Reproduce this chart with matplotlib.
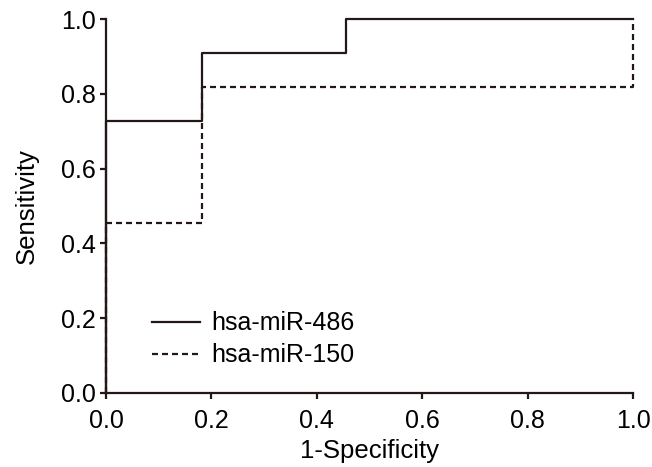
import matplotlib.pyplot as plt

plt.rcParams['font.family'] = ['Liberation Sans', 'DejaVu Sans']

# ROC points (1-specificity, sensitivity)
fpr_486 = [0.0, 0.0, 0.1818, 0.1818, 0.4545, 0.4545, 1.0]
tpr_486 = [0.0, 0.7273, 0.7273, 0.9091, 0.9091, 1.0, 1.0]
fpr_150 = [0.0, 0.0, 0.1818, 0.1818, 1.0, 1.0]
tpr_150 = [0.0, 0.4545, 0.4545, 0.8182, 0.8182, 1.0]

ticks = [0.0, 0.2, 0.4, 0.6, 0.8, 1.0]
ink = '#231815'

fig = plt.figure(figsize=(6.52, 4.67), dpi=100)
ax = fig.add_axes([0.1626, 0.1585, 0.8084, 0.8008])

ax.plot(fpr_486, tpr_486, color=ink, lw=1.6, label='hsa-miR-486', clip_on=False)
ax.plot(fpr_150, tpr_150, color=ink, lw=1.6, dashes=(2.7, 1.8),
        label='hsa-miR-150', clip_on=False)

ax.set_xlim(0, 1)
ax.set_ylim(0, 1)
ax.set_xticks(ticks)
ax.set_yticks(ticks)
ax.set_xticklabels([f'{t:.1f}' for t in ticks])
ax.set_yticklabels([f'{t:.1f}' for t in ticks])
ax.tick_params(direction='out', length=4.5, width=1.6, color=ink,
               labelsize=18, labelcolor='black')
ax.tick_params(axis='x', pad=7)
ax.tick_params(axis='y', pad=3)
for s in ['top', 'right']:
    ax.spines[s].set_visible(False)
for s in ['left', 'bottom']:
    ax.spines[s].set_linewidth(1.6)
    ax.spines[s].set_color(ink)

ax.set_xlabel('1-Specificity', fontsize=18.5, labelpad=4)
ax.set_ylabel('Sensitivity', fontsize=18.5, labelpad=15.5)

ax.legend(loc='lower left', bbox_to_anchor=(0.045, 0.008), frameon=False,
          fontsize=18, handlelength=1.9, handletextpad=0.48, labelspacing=0.32,
          borderpad=0.4)

fig.savefig('out.png', dpi=100)
